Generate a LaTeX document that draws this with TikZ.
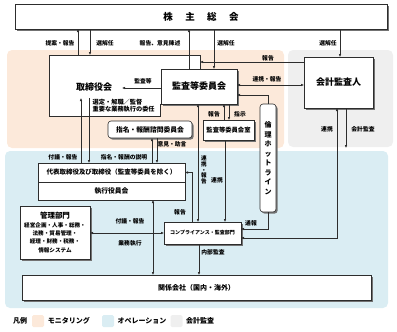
\documentclass[tikz,border=0pt]{standalone}
\usepackage{fontspec}
\setmainfont{Noto Sans CJK JP}
\usetikzlibrary{arrows.meta,shadows}
\definecolor{peach}{RGB}{252,233,218}
\definecolor{lblue}{RGB}{218,237,243}
\definecolor{lgray}{RGB}{239,239,239}
\definecolor{ln}{RGB}{45,45,45}
\begin{document}
\begin{tikzpicture}[x=1pt,y=-1pt,
  box/.style={draw=ln, line width=0.6pt, fill=white, inner sep=0pt, outer sep=0pt, align=center},
  shad/.style={drop shadow={shadow xshift=1.6pt, shadow yshift=-1.6pt, fill=black!55, opacity=1}},
  arr/.style={draw=ln, line width=0.55pt, -{Latex[length=3pt,width=2.6pt]}},
  darr/.style={draw=ln, line width=0.55pt, {Latex[length=3pt,width=2.6pt]}-{Latex[length=3pt,width=2.6pt]}},
  lab/.style={font=\fontsize{5.8}{6.8}\selectfont\bfseries, inner sep=0.5pt},
  big/.style={font=\fontsize{9}{10}\selectfont\bfseries},
  legtxt/.style={font=\fontsize{7}{8}\selectfont\bfseries, inner sep=0pt},
  legsq/.style={minimum size=12pt, inner sep=0pt, rounded corners=1.5pt},
  ]
\useasboundingbox (0,0) rectangle (397,332);
% regions
\fill[peach, rounded corners=5pt] (7,50) rectangle (284,148);
\fill[lgray, rounded corners=5pt] (288,50) rectangle (393,147);
\fill[lblue, rounded corners=5pt] (5,151) rectangle (388,308);

% shareholders
\node[box,shad,minimum width=372pt,minimum height=25pt] (soh) at (201,16.5)
  {\fontsize{9.5}{10}\selectfont\bfseries 株\hspace{1.3em}主\hspace{1.3em}総\hspace{1.3em}会};

% board (frame)
\node[inner sep=0pt, outer sep=0pt, minimum width=151pt, minimum height=61pt] (toribox) at (124.5,85.5) {};
\draw[draw=ln, line width=0.6pt, fill=white] (160,104) -- (160,116) -- (49,116) -- (49,55) -- (200,55) -- (200,69);
\node[big] (tori) at (94,87) {取締役会};
\coordinate (kansaend) at (122,88);

\node[box,shad,big,minimum width=76pt,minimum height=35pt] (kansa) at (199,86.5) {監査等委員会};
\node[box,shad,big,minimum width=69pt,minimum height=51pt] (kaikei) at (338.5,82.5) {会計監査人};
\node[box,shad,minimum width=51pt,minimum height=20pt,font=\fontsize{6.3}{7}\selectfont\bfseries] (shitsu) at (228.5,130) {監査等委員会室};
\node[box,shad,rounded corners=3pt,minimum width=84pt,minimum height=17pt,font=\fontsize{6.8}{7}\selectfont\bfseries] (shimei) at (150,129.5) {指名・報酬諮問委員会};
\node[box,shad,rounded corners=3pt,minimum width=16pt,minimum height=108pt,font=\fontsize{7}{9.5}\selectfont\bfseries] (hotline) at (268,158) {倫\\理\\ホ\\ッ\\ト\\ラ\\イ\\ン};

\node[box,minimum width=147pt,minimum height=19pt,font=\fontsize{6.5}{7}\selectfont\bfseries] (daihyo) at (111.5,172.5) {代表取締役及び取締役（監査等委員を除く）};
\node[box,minimum width=147pt,minimum height=18pt,font=\fontsize{6.8}{7}\selectfont\bfseries] (shikko) at (111.5,191) {執行役員会};

\node[box,shad,minimum width=70pt,minimum height=53pt,font=\fontsize{5.6}{8.3}\selectfont\bfseries] (kanri) at (55,232.5)
  {{\fontsize{7.5}{8.3}\selectfont 管理部門}\\経営企画・人事・総務・\\法務・貿易管理・\\経理・財務・税務・\\情報システム};
\node[box,shad,minimum width=77pt,minimum height=22pt,font=\fontsize{5}{6}\selectfont\bfseries] (comp) at (202.5,233) {コンプライアンス・監査部門};
\node[box,shad,minimum width=349pt,minimum height=25pt,font=\fontsize{7}{8}\selectfont\bfseries] (kankei) at (196.5,287.5) {関係会社（国内・海外）};

\coordinate (c81) at (81,98);
\coordinate (c89) at (89,98);
\coordinate (kaend) at (346,148);

% connectors
\draw[arr] (toribox.north -| 78,0) -- (soh.south -| 78,0);
\draw[arr] (soh.south -| 90,0) -- (toribox.north -| 90,0);
\draw[arr] (kansa.north -| 189,0) -- (soh.south -| 189,0);
\draw[arr] (soh.south -| 214,0) -- (kansa.north -| 214,0);
\draw[arr] (soh.south -| 340,0) -- (kaikei.north -| 340,0);
\draw[arr] (kaikei.west |- 0,62) -- (toribox.east |- 0,62);
\draw[darr] (kansa.east |- 0,85) -- (kaikei.west |- 0,85);
\draw[arr] (kansa.west |- kansaend) -- (kansaend);
\draw[arr] (hotline.north) |- (kansa.east |- 0,95);
\draw[arr] (hotline.south) |- (comp.east |- 0,229);
\draw[arr] (kaikei.south -| kaend) -- (kaend);
\draw[darr] (comp.east |- 0,238) -| (kaikei.south -| 337,0);
\draw[arr] (shitsu.north -| 224,0) -- (kansa.south -| 224,0);
\draw[arr] (kansa.south -| 229,0) -- (shitsu.north -| 229,0);
\draw[arr] (shitsu.south -| 225,0) -- (comp.north -| 225,0);
\draw[darr] (kansa.south -| 198,0) -- (comp.north -| 198,0);
\draw[arr] (comp.north -| 192,0) |- (daihyo.east);
\draw[arr] (daihyo.north -| c81) -- (c81);
\draw[arr] (c89) -- (daihyo.north -| c89);
\draw[arr] (daihyo.north -| 152,0) -- (shimei.south -| 152,0);
\draw[arr] (shimei.south -| 157,0) -- (daihyo.north -| 157,0);
\draw[darr] (shikko.south -| 153,0) -- (kankei.north -| 153,0);
\draw[darr] (kanri.east |- 0,233) -- (comp.west |- 0,233);
\draw[arr] (comp.south -| 199,0) -- (kankei.north -| 199,0);

% labels
\node[lab] (l1) at (60,43) {提案・報告};
\node[lab] (l2) at (105,43) {選解任};
\node[lab] (l3) at (160,43) {報告、意見陳述};
\node[lab] (l4) at (226,43) {選解任};
\node[lab] (l5) at (328,43) {選解任};
\node[lab] (l6) at (268,58) {報告};
\node[lab] (l7) at (267,79) {連携・報告};
\node[lab] (l8) at (143,81) {監査等};
\node[lab, align=left, anchor=west, font=\fontsize{6.2}{7}\selectfont\bfseries] (l9) at (92,105.5) {選定・解職／監督\\重要な業務執行の委任};
\node[lab] (l10) at (63,157) {付議・報告};
\node[lab] (l11) at (124,157) {指名・報酬の説明};
\node[lab] (l12) at (172,144) {意見・助言};
\node[lab] (l13) at (214,114) {報告};
\node[lab] (l14) at (240,114) {指示};
\node[lab, align=center, font=\fontsize{5.6}{5.8}\selectfont\bfseries] (l15) at (204,170) {連\\携\\・\\報\\告};
\node[lab] (l16) at (217,180) {連携};
\node[lab] (l17) at (180,212) {報告};
\node[lab] (l18) at (251,223) {通報};
\node[lab] (l19) at (327,129) {連携};
\node[lab] (l20) at (363,129) {会計監査};
\node[lab] (l21) at (130,221) {付議・報告};
\node[lab] (l22) at (130,243) {業務執行};
\node[lab] (l23) at (213,252) {内部監査};

% legend
\node[legtxt] (lg0) at (20,321) {凡例};
\node[legsq, fill=peach] (sq1) at (38,321) {};
\node[legtxt] (lg1) at (69,321) {モニタリング};
\node[legsq, fill=lblue] (sq2) at (108,321) {};
\node[legtxt] (lg2) at (142,321) {オペレーション};
\node[legsq, fill=lgray] (sq3) at (176.5,321) {};
\node[legtxt] (lg3) at (200,321) {会計監査};
\end{tikzpicture}
\end{document}
